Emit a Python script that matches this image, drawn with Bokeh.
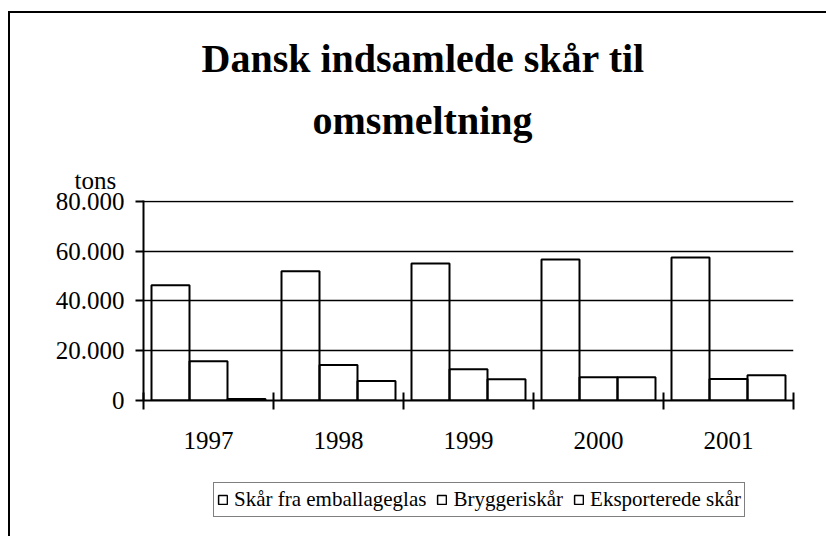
from bokeh.plotting import figure
from bokeh.layouts import column
from bokeh.models import Range1d, FixedTicker, Title, Legend, LegendItem, ColumnDataSource
from bokeh.embed import file_html
from bokeh.resources import INLINE
import numpy as np

# ---- data ----
years = ["1997", "1998", "1999", "2000", "2001"]
emballage = [46300, 52000, 55100, 56700, 57500]
bryggeri = [15800, 14300, 12600, 9300, 8600]
eksport = [600, 7800, 8500, 9300, 10200]
series_names = ["Skår fra emballageglas", "Bryggeriskår", "Eksporterede skår"]
y_ticks = [0, 20000, 40000, 60000, 80000]
y_tick_labels = ["0", "20.000", "40.000", "60.000", "80.000"]
title_lines = ["Dansk indsamlede skår til", "omsmeltning"]
y_unit = "tons"

FONT = "Liberation Serif"

p = figure(width=816, height=449, output_backend="svg", toolbar_location=None, tools="",
           x_range=Range1d(0, len(years)), y_range=Range1d(y_ticks[0], y_ticks[-1] * 1.005),
           min_border_left=133, min_border_right=33, min_border_top=187, min_border_bottom=62)
p.outline_line_color = None
p.background_fill_color = "white"
p.border_fill_color = "white"

idx = np.arange(len(years))
bw = 0.2923
series = [emballage, bryggeri, eksport]
offsets = [-bw, 0.0, bw]
for vals, off in zip(series, offsets):
    src = ColumnDataSource(dict(x=idx + 0.5 + off, top=vals))
    p.vbar(x="x", top="top", bottom=0, width=bw, source=src,
           fill_color=None, line_color="black", line_width=2)

# grid
p.xgrid.visible = False
p.ygrid.ticker = FixedTicker(ticks=y_ticks)
p.ygrid.grid_line_color = "black"
p.ygrid.grid_line_width = 1.5

# y axis
ya = p.yaxis[0]
ya.ticker = FixedTicker(ticks=y_ticks)
ya.major_label_overrides = {t: l for t, l in zip(y_ticks, y_tick_labels)}
ya.major_tick_in = 0
ya.major_tick_out = 8
ya.minor_tick_line_color = None
ya.major_tick_line_width = 2
ya.axis_line_width = 2
ya.axis_line_color = "black"
ya.major_tick_line_color = "black"
ya.major_label_text_font = FONT
ya.major_label_text_font_size = "25px"
ya.major_label_text_color = "black"
ya.major_label_standoff = 11

# x axis
xa = p.xaxis[0]
centers = [float(i) + 0.5 for i in idx]
xa.ticker = FixedTicker(ticks=centers, minor_ticks=[float(i) for i in range(len(years) + 1)])
xa.major_label_overrides = {c: y for c, y in zip(centers, years)}
xa.major_tick_line_color = None
xa.major_tick_in = 0
xa.major_tick_out = 0
xa.minor_tick_in = 8
xa.minor_tick_out = 9
xa.minor_tick_line_width = 2
xa.minor_tick_line_color = "black"
xa.axis_line_width = 2
xa.axis_line_color = "black"
xa.major_label_text_font = FONT
xa.major_label_text_font_size = "25px"
xa.major_label_text_color = "black"
xa.major_label_standoff = 22

# titles & unit label (first added = closest to the plot area)
p.add_layout(Title(text=y_unit, align="left", offset=-69, standoff=14,
                   text_font=FONT, text_font_style="normal", text_font_size="25px",
                   text_color="black"), "above")
p.add_layout(Title(text=title_lines[1], align="left", offset=169, standoff=30,
                   text_font=FONT, text_font_style="bold", text_font_size="40px",
                   text_color="black"), "above")
p.add_layout(Title(text=title_lines[0], align="left", offset=58, standoff=0,
                   text_font=FONT, text_font_style="bold", text_font_size="40px",
                   text_color="black"), "above")

# ---- legend strip (own canvas so nothing is clipped) ----
lg = figure(width=816, height=74, output_backend="svg", toolbar_location=None, tools="",
            x_range=Range1d(0, 1), y_range=Range1d(0, 1), x_axis_type=None, y_axis_type=None,
            min_border=0)
lg.outline_line_color = None
lg.grid.visible = False
lg.background_fill_color = "white"
lg.border_fill_color = "white"
# tiny swatch renderers hidden underneath the legend box: they only provide the legend keys
dummies = [lg.vbar(x=[0.5], bottom=[0.45], top=[0.5], width=0.005, fill_color=None,
                   line_color="black", line_width=1.5)
           for _ in series_names]
legend = Legend(items=[LegendItem(label=n, renderers=[r]) for n, r in zip(series_names, dummies)],
                orientation="horizontal", location=(70, 19),
                border_line_color="black", border_line_width=1.5,
                background_fill_color="white", background_fill_alpha=1.0,
                label_text_font=FONT, label_text_font_size="21px", label_text_color="black",
                glyph_width=11, glyph_height=11, label_standoff=6, spacing=10,
                padding=3, margin=0, label_height=27)
lg.add_layout(legend)

layout = column(p, lg, spacing=0)
layout.styles = {"border-top": "2px solid black", "border-left": "2px solid black",
                 "margin-top": "11px", "margin-left": "8px"}

open("out.html", "w").write(file_html(layout, INLINE))
